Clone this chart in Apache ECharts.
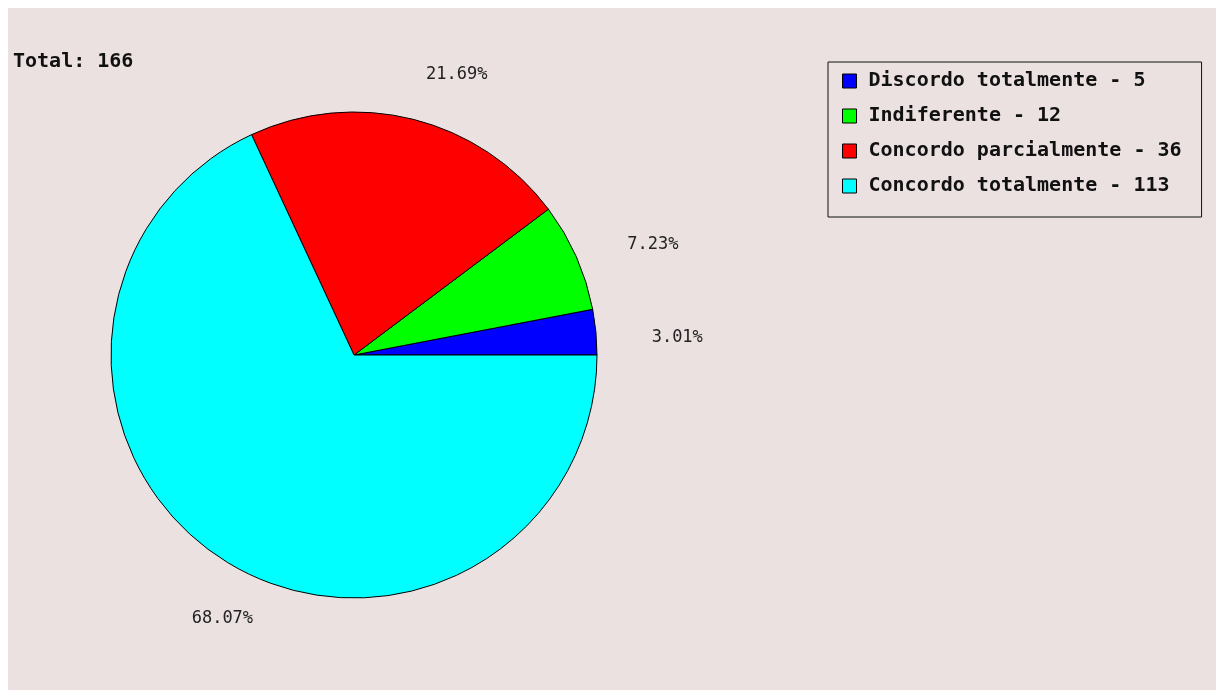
<!DOCTYPE html>
<html>
<head>
<meta charset="utf-8">
<script src="https://cdn.jsdelivr.net/npm/echarts@6/dist/echarts.min.js"></script>
<style>
  html, body { margin: 0; padding: 0; background: #ffffff; }
  #chart { width: 1216px; height: 690px; }
</style>
</head>
<body>
<div id="chart"></div>
<script>
// Survey answers and their counts
const categories = ['Discordo totalmente', 'Indiferente', 'Concordo parcialmente', 'Concordo totalmente'];
const counts = [5, 12, 36, 113];
const sliceColors = ['#0000ff', '#00ff00', '#ff0000', '#00ffff'];

const total = counts.reduce((a, b) => a + b, 0);
const mono = '"DejaVu Sans Mono", "Liberation Mono", monospace';

const CX = 354, CY = 355, R = 243, LABEL_R = 300;

// Middle angle (radians, counter-clockwise from 3 o'clock) of each slice
const midAngles = [];
let acc = 0;
counts.forEach(v => {
  const a0 = acc / total * Math.PI * 2;
  acc += v;
  const a1 = acc / total * Math.PI * 2;
  midAngles.push((a0 + a1) / 2);
});

const chart = echarts.init(document.getElementById('chart'), null, { renderer: 'canvas' });

chart.setOption({
  backgroundColor: '#ffffff',
  animation: false,
  graphic: [{
    type: 'rect',
    z: -10,
    silent: true,
    shape: { x: 8, y: 8, width: 1208, height: 682 },
    style: { fill: '#ebe1e1' }
  }],
  title: {
    text: 'Total: ' + total,
    left: 8,
    top: 47,
    textStyle: { fontFamily: mono, fontSize: 20, fontWeight: 'bold', color: '#111' }
  },
  legend: {
    orient: 'vertical',
    left: 828,
    top: 62,
    padding: [9, 20, 21, 14],
    itemWidth: 14,
    itemHeight: 14,
    itemGap: 15,
    icon: 'rect',
    borderColor: '#111',
    borderWidth: 1,
    backgroundColor: 'transparent',
    data: categories,
    itemStyle: { borderColor: '#000', borderWidth: 1 },
    formatter: name => name + ' - ' + counts[categories.indexOf(name)],
    textStyle: {
      fontFamily: mono, fontSize: 20, fontWeight: 'bold', color: '#111',
      lineHeight: 14, padding: [0, 0, 0, 7]
    }
  },
  series: [{
    type: 'pie',
    center: [CX, CY],
    radius: R,
    startAngle: 0,
    clockwise: false,
    avoidLabelOverlap: false,
    data: categories.map((c, i) => ({ name: c, value: counts[i], itemStyle: { color: sliceColors[i] } })),
    itemStyle: { borderColor: '#000', borderWidth: 1 },
    emphasis: { disabled: true },
    label: {
      show: true,
      position: 'outside',
      formatter: p => (p.value / total * 100).toFixed(2) + '%',
      fontFamily: mono,
      fontSize: 17,
      color: '#222'
    },
    labelLine: { show: false, length: 57, length2: 0 },
    labelLayout: p => {
      const a = midAngles[p.dataIndex];
      return {
        x: CX + LABEL_R * Math.cos(a) - 1,
        y: CY - LABEL_R * Math.sin(a) + 2,
        align: 'left',
        verticalAlign: 'top'
      };
    }
  }]
});
</script>
</body>
</html>
